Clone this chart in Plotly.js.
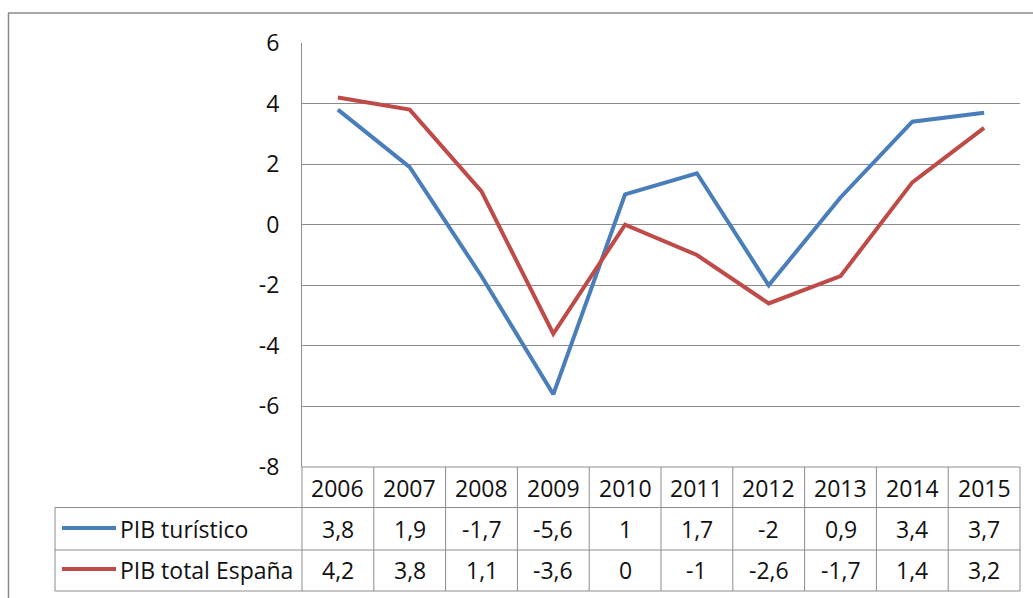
<!DOCTYPE html>
<html>
<head>
<meta charset="utf-8">
<script src="https://cdn.plot.ly/plotly-3.0.1.min.js"></script>
<style>html,body{margin:0;padding:0;background:#fff;}#chart{width:1033px;height:598px;}</style>
</head>
<body>
<div id="chart"></div>
<script>
const years = ['2006','2007','2008','2009','2010','2011','2012','2013','2014','2015'];
const pibTuristico = [3.8, 1.9, -1.7, -5.6, 1, 1.7, -2, 0.9, 3.4, 3.7];
const pibTotal = [4.2, 3.8, 1.1, -3.6, 0, -1, -2.6, -1.7, 1.4, 3.2];
const seriesNames = ['PIB turístico', 'PIB total España'];
const seriesColors = ['#4a7ebb', '#be4b48'];
const yTicks = [6, 4, 2, 0, -2, -4, -6, -8];

const W = 1033, H = 598;
const L = 302, R = 1020, T = 43, B = 467;
const px = x => (x - L) / (R - L);
const py = y => (B - y) / (B - T);
const FONT = '"Open Sans", Lato, sans-serif';
const FS = 23;
const gridC = '#8c8c8c';
const txtC = '#111111';

const fmt = v => String(v).replace('.', ',');

const traces = [pibTuristico, pibTotal].map((vals, i) => ({
  x: years, y: vals, type: 'scatter', mode: 'lines', name: seriesNames[i],
  line: {color: seriesColors[i], width: 4}, hoverinfo: 'skip'
}));

const shapes = [];
const line = (x0, y0, x1, y1, color, width) => shapes.push({
  type: 'line', xref: 'paper', yref: 'paper', x0: px(x0), y0: py(y0), x1: px(x1), y1: py(y1),
  line: {color: color || gridC, width: width || 1}
});
// outer border
line(8, 13, 1040, 13, '#8a8a8a', 1.5);
line(8.5, 13, 8.5, 600, '#8a8a8a', 1.5);
// table
const rowY = [467, 507.5, 550, 591];
const tableLeft = 55;
line(L, rowY[0], R, rowY[0]);
for (let r = 1; r < rowY.length; r++) line(tableLeft, rowY[r], R, rowY[r]);
line(tableLeft, rowY[1], tableLeft, rowY[3]);
const colW = (R - L) / years.length;
for (let c = 0; c <= years.length; c++) line(L + c * colW, rowY[0], L + c * colW, rowY[3]);
// legend keys
const rowMid = [488, 529, 570];
seriesColors.forEach((col, i) => shapes.push({
  type: 'line', xref: 'paper', yref: 'paper', x0: px(62), x1: px(116), y0: py(rowMid[i + 1] - 1), y1: py(rowMid[i + 1] - 1),
  line: {color: col, width: 4}
}));

const annotations = [];
const ann = (xPix, y, text, xanchor) => annotations.push({
  x: px(xPix), xref: 'paper', y: py(y), yref: 'paper', text: text, showarrow: false,
  xanchor: xanchor || 'center', yanchor: 'middle', font: {family: FONT, size: FS, color: txtC}
});
const colCenter = j => L + (j + 0.5) * colW;
years.forEach((yr, j) => ann(colCenter(j), rowMid[0], yr));
[pibTuristico, pibTotal].forEach((vals, i) => {
  ann(118, rowMid[i + 1], seriesNames[i], 'left');
  vals.forEach((v, j) => ann(colCenter(j), rowMid[i + 1], fmt(v)));
});

const layout = {
  width: W, height: H,
  margin: {l: L, r: W - R, t: T, b: H - B, pad: 0},
  paper_bgcolor: '#fff', plot_bgcolor: '#fff',
  showlegend: false,
  font: {family: FONT, size: FS, color: txtC},
  xaxis: {type: 'category', categoryorder: 'array', categoryarray: years, range: [-0.5, years.length - 0.5],
          showticklabels: false, showgrid: false, zeroline: false, showline: false, ticks: '', fixedrange: true},
  yaxis: {range: [-8, 6], tickvals: yTicks, ticktext: yTicks.map(String), showgrid: true, gridcolor: gridC, gridwidth: 1,
          zeroline: false, showline: true, linecolor: gridC, linewidth: 1, ticks: 'outside', ticklen: 17,
          tickcolor: 'rgba(0,0,0,0)', tickfont: {family: FONT, size: FS, color: txtC}, fixedrange: true},
  shapes: shapes, annotations: annotations
};
Plotly.newPlot('chart', traces, layout, {displayModeBar: false, staticPlot: true});
</script>
</body>
</html>
